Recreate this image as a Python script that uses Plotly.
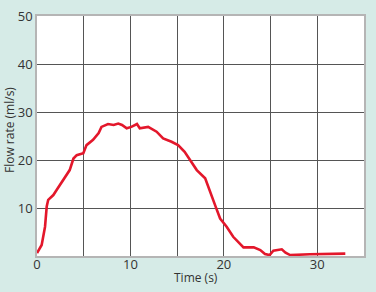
import plotly.graph_objects as go

time_s = [0.0, 0.5, 0.86, 1.04, 1.2, 1.75, 2.1, 2.8, 3.5, 3.9, 4.25, 4.96, 5.3, 6.0, 6.6, 6.9,
          7.6, 8.2, 8.7, 9.1, 9.6, 10.1, 10.7, 11.0, 11.9, 12.8, 13.5, 14.4, 15.1, 15.8, 16.4,
          17.1, 18.0, 18.5, 19.1, 19.6, 20.3, 21.0, 21.7, 22.1, 23.2, 23.9, 24.4, 24.9, 25.3,
          26.2, 26.6, 27.1, 29.2, 31.4, 33.0]
flow_ml_s = [0.6, 2.3, 6.1, 10.3, 11.7, 12.7, 13.75, 15.8, 17.9, 20.3, 21.0, 21.4, 23.1, 24.2,
             25.6, 26.9, 27.5, 27.3, 27.6, 27.3, 26.6, 26.9, 27.5, 26.6, 26.9, 25.9, 24.5, 23.8,
             23.1, 21.7, 20.0, 17.9, 16.2, 13.75, 10.4, 7.8, 6.1, 4.0, 2.6, 1.8, 1.8, 1.25, 0.4,
             0.2, 1.1, 1.4, 0.7, 0.2, 0.35, 0.4, 0.5]

x_tickvals = [0, 5, 10, 15, 20, 25, 30]
x_ticktext = ["0", "", "10", "", "20", "", "30"]
y_tickvals = [0, 10, 20, 30, 40, 50]
y_ticktext = ["", "10", "20", "30", "40", "50"]
x_title = "Time (s)"
y_title = "Flow rate (ml/s)"

fig = go.Figure()
fig.add_trace(go.Scatter(x=time_s, y=flow_ml_s, mode="lines",
                         line=dict(color="#e3172b", width=2.6), hoverinfo="skip"))

font = dict(family="Open Sans, Liberation Sans, sans-serif", size=13, color="#333333")
tfont = dict(family="Open Sans, Liberation Sans, sans-serif", size=12, color="#333333")
fig.update_layout(
    width=376, height=292,
    margin=dict(l=37, r=12, t=16, b=36),
    paper_bgcolor="#d6ebe7", plot_bgcolor="#ffffff",
    showlegend=False, font=font,
    xaxis=dict(range=[0, 35], tickvals=x_tickvals, ticktext=x_ticktext, automargin=False,
               showgrid=True, gridcolor="#555555", gridwidth=1.3, zeroline=False,
               showline=True, mirror=True, linecolor="#b5b5b5", linewidth=1.5,
               ticks="", ticklabelstandoff=-4),
    yaxis=dict(range=[0, 50], tickvals=y_tickvals, ticktext=y_ticktext, automargin=False,
               showgrid=True, gridcolor="#555555", gridwidth=1.3, zeroline=False,
               showline=True, mirror=True, linecolor="#b5b5b5", linewidth=1.5,
               ticks=""),
    annotations=[
        dict(text=x_title, xref="paper", yref="paper", x=0.5, y=0, xshift=-5, yshift=-21,
             xanchor="center", yanchor="middle", showarrow=False, font=tfont),
        dict(text=y_title, xref="paper", yref="paper", x=0, y=0.5, xshift=-28, yshift=6,
             xanchor="center", yanchor="middle", textangle=-90, showarrow=False, font=tfont),
    ],
)
fig.write_html("out.html")
